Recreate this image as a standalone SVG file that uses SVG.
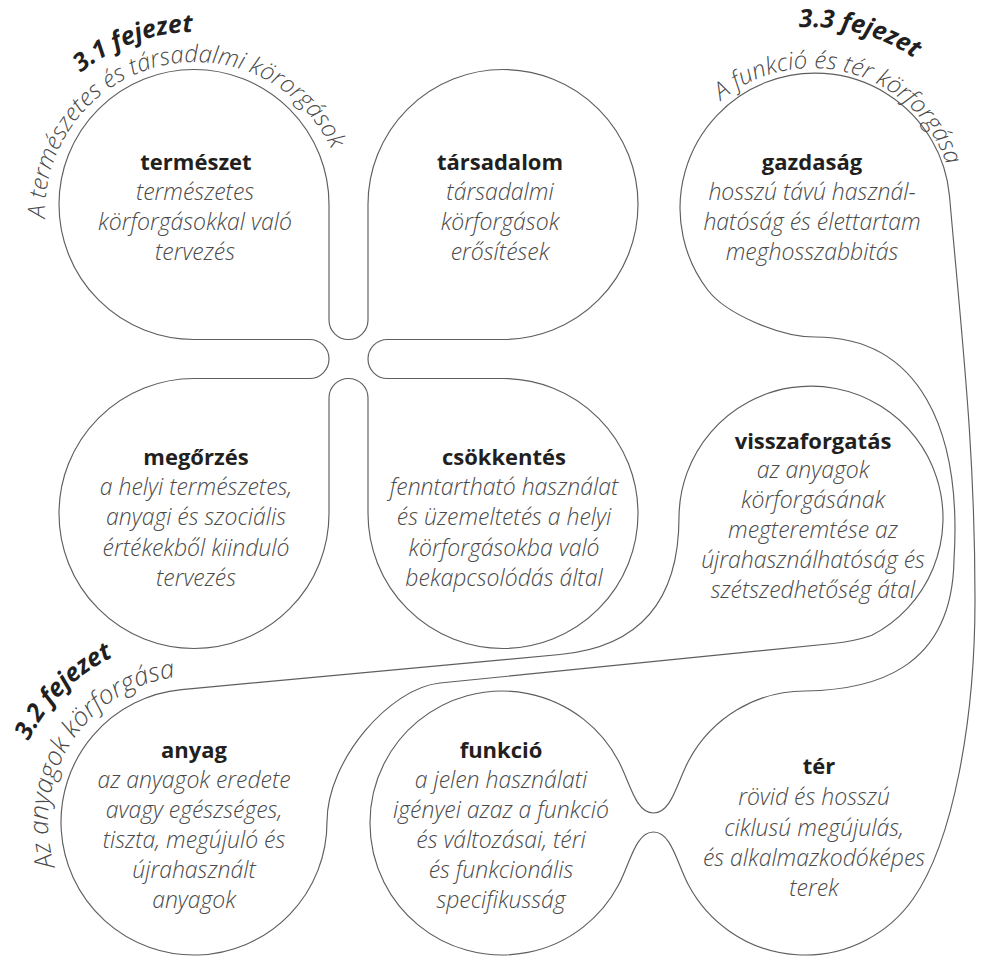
<svg xmlns="http://www.w3.org/2000/svg" width="983" height="956" viewBox="0 0 983 956">
  <style>
    .ol { fill: none; stroke: #5e5e5e; stroke-width: 1.15; stroke-linejoin: round; }
    .t { font-family: "Open Sans", "Noto Sans", "Liberation Sans", sans-serif; font-weight: 700; font-size: 22px; fill: #231f20; text-anchor: middle; }
    .d { font-family: "Open Sans", "Noto Sans", "Liberation Sans", sans-serif; font-weight: 300; font-style: italic; font-size: 23px; fill: #4a4a4a; text-anchor: middle; }
    .ch { font-family: "Open Sans", "Noto Sans", "Liberation Sans", sans-serif; font-weight: 700; font-style: italic; font-size: 25px; fill: #231f20; }
    .sub { font-family: "Open Sans", "Noto Sans", "Liberation Sans", sans-serif; font-weight: 300; font-style: italic; font-size: 24px; fill: #4a4a4a; }
  </style>
  <defs>
    <!-- baselines for the curved chapter captions -->
    <path id="p31s" d="M 46.65 234.17 A 150 150 0 0 1 337.25 164.40"/>
    <path id="p31c" d="M 57.11 96.30 A 180 180 0 0 1 226.26 34.73"/>
    <path id="p33s" d="M 684.37 147.75 A 142 142 0 0 1 953.22 224.84"/>
    <path id="p33c" d="M 764.64 33.23 A 183 183 0 0 1 941.40 80.60"/>
    <path id="p32s" d="M 95.36 929.64 A 146 146 0 0 1 249.87 687.11"/>
    <path id="p32c" d="M 16.27 774.38 A 184 184 0 0 1 146.38 644.27"/>
  </defs>

  <rect width="983" height="956" fill="#fff"/>

  <!-- outlines of the three chapter shapes -->
  <g id="connectors">
    <!-- 3.1: four-leaf clover -->
    <path id="shape-31" class="ol" d="M 329 320 A 19.5 19.5 0 0 0 368 320 L 368 204.5 A 135 135 0 1 1 503 339.5 L 387.5 339.5 A 19.5 19.5 0 0 0 387.5 378.5 L 503 378.5 A 135 135 0 1 1 368 513.5 L 368 398 A 19.5 19.5 0 0 0 329 398 L 329 513.5 A 135 135 0 1 1 194 378.5 L 309.5 378.5 A 19.5 19.5 0 0 0 309.5 339.5 L 194 339.5 A 135 135 0 1 1 329 204.5 Z"/>
    <!-- 3.2: anyag joined to visszaforgatás by a band -->
    <path id="shape-32" class="ol" d="M 181.6 689.6 L 560 654.5 C 640 647 679 600 679 517 A 132 132 0 1 1 871.4 635.5 C 858 640 845 642.3 833 643.5 L 440 683 C 390 688 327 760 327 822 A 133 133 0 1 1 181.6 689.6 Z"/>
    <!-- 3.3: gazdaság, tér and funkció -->
    <path id="shape-33" class="ol" d="M 949.5 196 C 962.6 345.4 975 450 975 600 C 975 720 953.2 841.7 913 899 A 132 132 0 0 1 688.5 885 C 676.8 863 671.5 832 653.5 832 C 635.5 832 630.2 863 618.5 885 A 132 132 0 1 1 618.5 761 C 630.2 783 635.5 813 653.5 813 C 671.5 813 676.8 783 688.5 761 A 132 132 0 0 1 805 691 C 870 690 952 672 954 560 C 962 430 920 337 815 337 C 780 337 725.9 313.8 707.7 290 A 135 135 0 1 1 949.5 196 Z"/>
  </g>

  <!-- chapter captions -->
  <g id="captions">
    <text class="ch"><textPath href="#p31c" startOffset="50%" text-anchor="middle">3.1 fejezet</textPath></text>
    <text class="sub"><textPath href="#p31s" startOffset="50%" text-anchor="middle">A természetes és társadalmi körorgások</textPath></text>
    <text class="ch"><textPath href="#p33c" startOffset="50%" text-anchor="middle">3.3 fejezet</textPath></text>
    <text class="sub"><textPath href="#p33s" startOffset="50%" text-anchor="middle">A funkció és tér körforgása</textPath></text>
    <text class="ch"><textPath href="#p32c" startOffset="50%" text-anchor="middle">3.2 fejezet</textPath></text>
    <text class="sub" style="font-size:26px"><textPath href="#p32s" startOffset="50%" text-anchor="middle">Az anyagok körforgása</textPath></text>
  </g>

  <g id="node-termeszet">
    <text class="t" x="196" y="170">természet</text>
    <text class="d" x="195" y="200">természetes</text>
    <text class="d" x="195" y="230">körforgásokkal való</text>
    <text class="d" x="195" y="260">tervezés</text>
  </g>
  <g id="node-tarsadalom">
    <text class="t" x="500" y="170">társadalom</text>
    <text class="d" x="500" y="200">társadalmi</text>
    <text class="d" x="500" y="230">körforgások</text>
    <text class="d" x="500" y="260">erősítések</text>
  </g>
  <g id="node-gazdasag">
    <text class="t" x="812" y="170">gazdaság</text>
    <text class="d" x="812" y="200">hosszú távú használ-</text>
    <text class="d" x="812" y="230">hatóság és élettartam</text>
    <text class="d" x="812" y="260">meghosszabbitás</text>
  </g>
  <g id="node-megorzes">
    <text class="t" x="196" y="465">megőrzés</text>
    <text class="d" x="196" y="495">a helyi természetes,</text>
    <text class="d" x="196" y="525">anyagi és szociális</text>
    <text class="d" x="196" y="556">értékekből kiinduló</text>
    <text class="d" x="196" y="586">tervezés</text>
  </g>
  <g id="node-csokkentes">
    <text class="t" x="504" y="465">csökkentés</text>
    <text class="d" x="504" y="495">fenntartható használat</text>
    <text class="d" x="504" y="525">és üzemeltetés a helyi</text>
    <text class="d" x="504" y="556">körforgásokba való</text>
    <text class="d" x="504" y="586">bekapcsolódás által</text>
  </g>
  <g id="node-visszaforgatas">
    <text class="t" x="813" y="449">visszaforgatás</text>
    <text class="d" x="813" y="478">az anyagok</text>
    <text class="d" x="813" y="508">körforgásának</text>
    <text class="d" x="813" y="538">megteremtése az</text>
    <text class="d" x="813" y="568">újrahasználhatóság és</text>
    <text class="d" x="813" y="598">szétszedhetőség átal</text>
  </g>
  <g id="node-anyag">
    <text class="t" x="194" y="758">anyag</text>
    <text class="d" x="194" y="788">az anyagok eredete</text>
    <text class="d" x="194" y="818">avagy egészséges,</text>
    <text class="d" x="194" y="848">tiszta, megújuló és</text>
    <text class="d" x="194" y="878">újrahasznált</text>
    <text class="d" x="194" y="908">anyagok</text>
  </g>
  <g id="node-funkcio">
    <text class="t" x="501" y="758">funkció</text>
    <text class="d" x="501" y="788">a jelen használati</text>
    <text class="d" x="501" y="818">igényei azaz a funkció</text>
    <text class="d" x="501" y="848">és változásai, téri</text>
    <text class="d" x="501" y="878">és funkcionális</text>
    <text class="d" x="501" y="908">specifikusság</text>
  </g>
  <g id="node-ter">
    <text class="t" x="819" y="774">tér</text>
    <text class="d" x="814" y="805">rövid és hosszú</text>
    <text class="d" x="814" y="836">ciklusú megújulás,</text>
    <text class="d" x="814" y="866">és alkalmazkodóképes</text>
    <text class="d" x="814" y="896">terek</text>
  </g>
</svg>
